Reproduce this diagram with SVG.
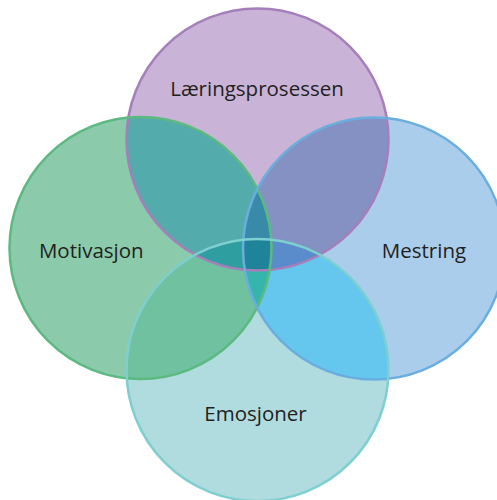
<svg xmlns="http://www.w3.org/2000/svg" width="497" height="500" viewBox="0 0 497 500">
<style>
.lbl{font-family:"Open Sans","Liberation Sans",sans-serif;font-size:20.5px;fill:#231f20;text-anchor:middle}
.st{fill:none;stroke-width:2.5}
</style>
<defs>
<clipPath id="cT"><circle cx="257.5" cy="139.5" r="131"/></clipPath>
<clipPath id="cL"><circle cx="140.5" cy="248" r="131"/></clipPath>
<clipPath id="cR"><circle cx="374" cy="248.5" r="131"/></clipPath>
<clipPath id="cB"><circle cx="257.5" cy="370" r="131"/></clipPath>
</defs>
<rect width="497" height="500" fill="#ffffff"/>
<g id="fills">
<circle cx="257.5" cy="139.5" r="131" fill="#c9b3d7"/>
<circle cx="140.5" cy="248" r="131" fill="#8bcaab"/>
<circle cx="374" cy="248.5" r="131" fill="#abcdec"/>
<circle cx="257.5" cy="370" r="131" fill="#b0dcdf"/>
<!-- pairwise -->
<g clip-path="url(#cT)"><circle cx="140.5" cy="248" r="131" fill="#54abab"/></g>
<g clip-path="url(#cT)"><circle cx="374" cy="248.5" r="131" fill="#8591c3"/></g>
<g clip-path="url(#cB)"><circle cx="140.5" cy="248" r="131" fill="#6fc19f"/></g>
<g clip-path="url(#cB)"><circle cx="374" cy="248.5" r="131" fill="#65c7ee"/></g>
<g clip-path="url(#cR)"><circle cx="140.5" cy="248" r="131" fill="#36b5ad"/></g>
<!-- triples -->
<g clip-path="url(#cT)"><g clip-path="url(#cB)"><circle cx="140.5" cy="248" r="131" fill="#2f9ea0"/></g></g>
<g clip-path="url(#cT)"><g clip-path="url(#cB)"><circle cx="374" cy="248.5" r="131" fill="#5a8bca"/></g></g>
<g clip-path="url(#cT)"><g clip-path="url(#cR)"><circle cx="140.5" cy="248" r="131" fill="#398aa9"/></g></g>
<g clip-path="url(#cB)"><g clip-path="url(#cR)"><circle cx="140.5" cy="248" r="131" fill="#36b5ad"/></g></g>
<!-- quad -->
<g clip-path="url(#cT)"><g clip-path="url(#cB)"><g clip-path="url(#cR)"><circle cx="140.5" cy="248" r="131" fill="#1f8499"/></g></g></g>
</g>
<g id="node-laering">
<circle class="st" cx="257.5" cy="139.5" r="131" stroke="#a57fbb"/>
<text class="lbl" x="257" y="95.7">Læringsprosessen</text>
</g>
<g id="node-motivasjon">
<circle class="st" cx="140.5" cy="248" r="131" stroke="#5cba80"/>
<text class="lbl" x="91.3" y="257.7">Motivasjon</text>
</g>
<g id="node-mestring">
<circle class="st" cx="374" cy="248.5" r="131" stroke="#6aaedf"/>
<text class="lbl" x="424" y="257.7">Mestring</text>
</g>
<g id="node-emosjoner">
<circle class="st" cx="257.5" cy="370" r="131" stroke="#7dcfd0"/>
<text class="lbl" x="255.5" y="420.7">Emosjoner</text>
</g>
<g id="connectors"/>
</svg>
